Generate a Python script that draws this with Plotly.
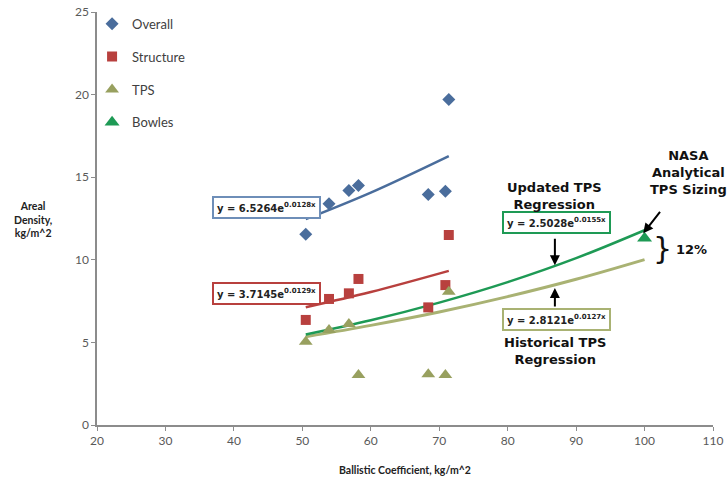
import plotly.graph_objects as go

# ---- data ----
bc_x = [50.5, 53.9, 56.8, 58.2, 68.4, 70.9, 71.4]
overall_y = [11.55, 13.40, 14.20, 14.50, 13.95, 14.15, 19.70]
structure_y = [6.36, 7.63, 7.97, 8.84, 7.12, 8.47, 11.50]
tps_y = [5.04, 5.75, 6.11, 3.03, 3.07, 3.03, 8.07]
bowles_x = [100.0]
bowles_y = [11.30]

# trend lines
trend_short_x = [50.5, 60.0, 71.4]
overall_trend_y = [12.46, 14.07, 16.28]
structure_trend_y = [7.13, 8.05, 9.33]
trend_long_x = [50.5, 60.0, 70.0, 80.0, 90.0, 100.0]
hist_tps_trend_y = [5.34, 6.03, 6.84, 7.77, 8.82, 10.01]
upd_tps_trend_y = [5.48, 6.34, 7.41, 8.65, 10.10, 11.79]

x_ticks = [20, 30, 40, 50, 60, 70, 80, 90, 100, 110]
y_ticks = [0, 5, 10, 15, 20, 25]

C_BLUE = "#4A6D9C"
C_RED = "#B8403E"
C_OLIVE = "#98A05F"
C_OLIVE_LINE = "#A9B273"
C_GREEN = "#1E9A55"
AXIS = "#8C8C8C"

fig = go.Figure()

# trend lines
fig.add_trace(go.Scatter(x=trend_short_x, y=overall_trend_y, mode="lines", line=dict(color=C_BLUE, width=2.5, shape="spline"), showlegend=False, hoverinfo="skip"))
fig.add_trace(go.Scatter(x=trend_short_x, y=structure_trend_y, mode="lines", line=dict(color=C_RED, width=2.5, shape="spline"), showlegend=False, hoverinfo="skip"))
fig.add_trace(go.Scatter(x=trend_long_x, y=hist_tps_trend_y, mode="lines", line=dict(color=C_OLIVE_LINE, width=3, shape="spline"), showlegend=False, hoverinfo="skip"))
fig.add_trace(go.Scatter(x=trend_long_x, y=upd_tps_trend_y, mode="lines", line=dict(color=C_GREEN, width=2.5, shape="spline"), showlegend=False, hoverinfo="skip"))

# markers
fig.add_trace(go.Scatter(x=bc_x, y=overall_y, mode="markers", name="Overall", legendgroup="a",
                         marker=dict(symbol="diamond", size=10, color=C_BLUE)))
fig.add_trace(go.Scatter(x=bc_x, y=structure_y, mode="markers", name="Structure", legendgroup="b",
                         marker=dict(symbol="square", size=10, color=C_RED)))
fig.add_trace(go.Scatter(x=bc_x, y=tps_y, mode="markers", name="TPS", legendgroup="c",
                         marker=dict(symbol="triangle-up", size=12, color=C_OLIVE)))
fig.add_trace(go.Scatter(x=bowles_x, y=bowles_y, mode="markers", name="Bowles", legendgroup="d",
                         marker=dict(symbol="triangle-up", size=13, color=C_GREEN)))

EQF = dict(family="DejaVu Sans", size=10, color="#222222")
LBL = dict(family="DejaVu Sans", size=13, color="#111111")

def eqbox(x, y, text, color):
    fig.add_annotation(x=x, y=y, text=text, showarrow=False, font=EQF,
                       bordercolor=color, borderwidth=2, borderpad=2, bgcolor="white",
                       width=101, height=15)

eqbox(44.77, 13.14, "<b>y = 6.5264e<sup>0.0128x</sup></b>", "#6E8EB8")
eqbox(44.77, 7.99, "<b>y = 3.7145e<sup>0.0129x</sup></b>", C_RED)
eqbox(87.14, 12.23, "<b>y = 2.5028e<sup>0.0155x</sup></b>", C_GREEN)
eqbox(87.14, 6.39, "<b>y = 2.8121e<sup>0.0127x</sup></b>", C_OLIVE_LINE)

fig.add_annotation(x=86.9, y=13.86, text="<b>Updated TPS<br>Regression</b>", showarrow=False, font=LBL)
fig.add_annotation(x=86.9, y=4.48, text="<b>Historical TPS<br>Regression</b>", showarrow=False, font=LBL)
fig.add_annotation(x=106.4, y=15.3, text="<b>NASA<br>Analytical<br>TPS Sizing</b>", showarrow=False, font=LBL)

# arrows
fig.add_annotation(x=86.9, y=9.67, ax=0, ay=-28, text="", showarrow=True, arrowhead=2, arrowsize=1, arrowwidth=2, arrowcolor="black")
fig.add_annotation(x=86.9, y=8.29, ax=0, ay=20, text="", showarrow=True, arrowhead=2, arrowsize=1, arrowwidth=2, arrowcolor="black")
fig.add_annotation(x=99.8, y=11.6, ax=18, ay=-23, text="", showarrow=True, arrowhead=2, arrowsize=1, arrowwidth=2, arrowcolor="black")

# brace + 12%
fig.add_annotation(x=102.6, y=10.7, text="}", showarrow=False, font=dict(family="DejaVu Sans", size=30, color="#111111"))
fig.add_annotation(x=106.9, y=10.65, text="<b>12%</b>", showarrow=False, font=dict(family="DejaVu Sans", size=13, color="#111111"))

# y-axis title
fig.add_annotation(xref="paper", yref="paper", x=(33 - 97) / 616, y=(425 - 220) / 413,
                   xanchor="center", yanchor="middle",
                   text="<b>Areal<br>Density,<br>kg/m^2</b>", showarrow=False,
                   font=dict(family="Lato", size=10.5, color="#222222"))

fig.update_layout(
    width=728, height=484,
    margin=dict(l=97, r=15, t=12, b=59, autoexpand=False),
    paper_bgcolor="white", plot_bgcolor="white",
    font=dict(family="Lato", color="#595959"),
    legend=dict(x=-0.008, y=1.008, xanchor="left", yanchor="top", font=dict(family="Lato", size=13, color="#404040"),
                tracegroupgap=13, bgcolor="rgba(0,0,0,0)", itemwidth=30),
    xaxis=dict(range=[20, 110], tickvals=x_ticks, showline=True, linecolor=AXIS, linewidth=1.5,
               ticks="outside", ticklen=4, tickcolor=AXIS, showgrid=False, zeroline=False, automargin=False,
               tickfont=dict(family="Lato", size=12, color="#595959"), ticklabeloverflow="allow",
               title=dict(text="<b>Ballistic Coefficient, kg/m^2</b>", font=dict(family="Lato", size=10.5, color="#222222"), standoff=19)),
    yaxis=dict(range=[0, 25], tickvals=y_ticks, showline=True, linecolor=AXIS, linewidth=1.5,
               ticks="outside", ticklen=4, tickcolor=AXIS, showgrid=False, zeroline=False, automargin=False,
               tickfont=dict(family="Lato", size=12, color="#595959"), ticklabeloverflow="allow"),
)

# remove the browser's default 8px page margin so the 728x484 figure fills the window
fig.write_html("out.html", config={"displayModeBar": False},
               post_script="document.body.style.margin='0';")
